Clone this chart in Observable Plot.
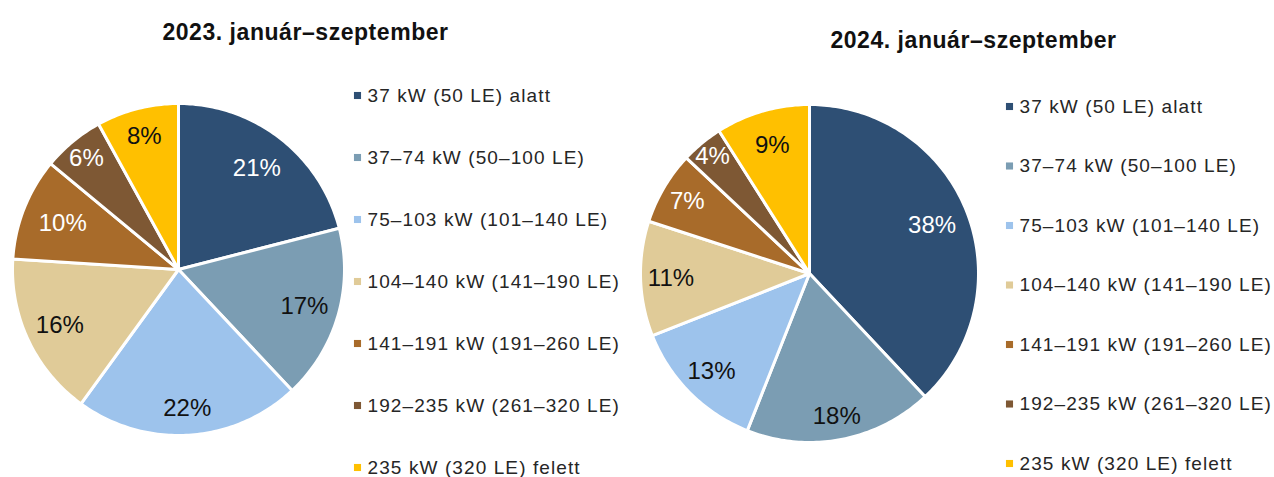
<!DOCTYPE html>
<html>
<head>
<meta charset="utf-8">
<script src="https://cdn.jsdelivr.net/npm/d3@7"></script>
<script src="https://cdn.jsdelivr.net/npm/@observablehq/plot@0.6"></script>
<style>
  html, body { margin: 0; padding: 0; background: #fff; }
  #chart svg { display: block; }
  .legend-text text { letter-spacing: 1.1px; }
  .title-text text { letter-spacing: 0.55px; }
</style>
</head>
<body>
<div id="chart"></div>
<script>
// ---- data ----
const categories = [
  "37 kW (50 LE) alatt",
  "37–74 kW (50–100 LE)",
  "75–103 kW (101–140 LE)",
  "104–140 kW (141–190 LE)",
  "141–191 kW (191–260 LE)",
  "192–235 kW (261–320 LE)",
  "235 kW (320 LE) felett"
];
const values2023 = [21, 17, 22, 16, 10, 6, 8];
const values2024 = [38, 18, 13, 11, 7, 4, 9];
const titles = ["2023. január–szeptember", "2024. január–szeptember"];

// ---- styles ----
const colors = ["#2E4F74", "#7B9DB3", "#9DC3EC", "#E0CB98", "#A86B2A", "#7E5834", "#FFC000"];
const darkCategories = new Set([categories[0], categories[4], categories[5]]);
const font = "Liberation Sans, Arial, sans-serif";

// ---- layout ----
const W = 1274, H = 477;
const panels = [
  {values: values2023, title: titles[0], cx: 178, cy: 269, r: 166,
   labelR: [0.77, 0.79, 0.84, 0.79, 0.75, 0.87, 0.83],
   titleX: 305, titleY: 32, legX: 357, legY0: 95, legStep: 62},
  {values: values2024, title: titles[1], cx: 809, cy: 273, r: 169,
   labelR: [0.78, 0.86, 0.82, 0.82, 0.84, 0.9, 0.79],
   titleX: 973, titleY: 40, legX: 1009, legY0: 106, legStep: 59.5}
];

const polys = [], labels = [], titleRows = [], legendRows = [];
panels.forEach((p, pi) => {
  const total = d3.sum(p.values);
  let acc = 0;
  p.values.forEach((v, i) => {
    const a0 = acc / total * 2 * Math.PI;
    acc += v;
    const a1 = acc / total * 2 * Math.PI;
    const id = pi + "-" + i;
    polys.push({id, cat: categories[i], x: p.cx, y: p.cy});
    const n = Math.max(2, Math.ceil((a1 - a0) / (Math.PI / 180)));
    for (let k = 0; k <= n; k++) {
      const a = a0 + (a1 - a0) * k / n;
      polys.push({id, cat: categories[i], x: p.cx + p.r * Math.sin(a), y: p.cy - p.r * Math.cos(a)});
    }
    const am = (a0 + a1) / 2;
    const lr = p.r * p.labelR[i];
    labels.push({
      text: v + "%",
      dark: darkCategories.has(categories[i]),
      x: p.cx + lr * Math.sin(am),
      y: p.cy - lr * Math.cos(am)
    });
  });
  titleRows.push({text: p.title, x: p.titleX, y: p.titleY});
  categories.forEach((c, i) => legendRows.push({cat: c, x: p.legX, y: p.legY0 + i * p.legStep}));
});

const chart = Plot.plot({
  width: W,
  height: H,
  margin: 0,
  x: {domain: [0, W], range: [0, W], axis: null},
  y: {domain: [0, H], range: [0, H], axis: null},
  color: {domain: categories, range: colors},
  style: {fontFamily: font, background: "#fff"},
  marks: [
    Plot.line(polys, {
      x: "x", y: "y", z: "id", fill: "cat",
      stroke: "white", strokeWidth: 3, strokeLinejoin: "round",
      curve: "linear-closed"
    }),
    Plot.text(labels.filter(d => d.dark), {
      x: "x", y: "y", text: "text", fill: "white", fontSize: 24, fontFamily: font
    }),
    Plot.text(labels.filter(d => !d.dark), {
      x: "x", y: "y", text: "text", fill: "#111", fontSize: 24, fontFamily: font
    }),
    Plot.text(titleRows, {
      x: "x", y: "y", text: "text", fill: "#111", fontSize: 23, fontWeight: "bold",
      fontFamily: font, className: "title-text"
    }),
    Plot.dot(legendRows, {
      x: "x", y: "y", fill: "cat", symbol: "square", r: 4, stroke: null
    }),
    Plot.text(legendRows, {
      x: d => d.x + 10, y: "y", text: "cat", textAnchor: "start",
      fill: "#262626", fontSize: 19, fontFamily: font, className: "legend-text"
    })
  ]
});
document.getElementById("chart").appendChild(chart);
</script>
</body>
</html>
